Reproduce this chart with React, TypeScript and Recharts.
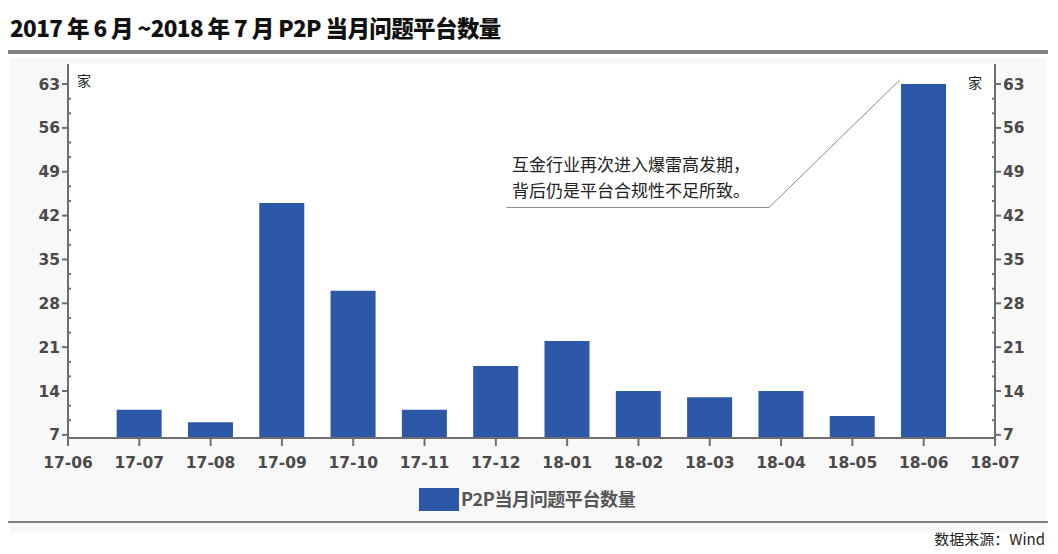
import React from "react";
import {
  BarChart,
  Bar,
  XAxis,
  YAxis,
  ReferenceLine,
} from "recharts";

const months = [
  "17-06", "17-07", "17-08", "17-09", "17-10", "17-11", "17-12",
  "18-01", "18-02", "18-03", "18-04", "18-05", "18-06", "18-07",
];
// problem platforms per month (17-06 and 18-07 have no bar)
const problemCount = [null, 11, 9, 44, 30, 11, 18, 22, 14, 13, 14, 10, 63, null];
const yTicks = [7, 14, 21, 28, 35, 42, 49, 56, 63];

const data = months.map((m, i) => ({ idx: i, month: m, value: problemCount[i] }));
const xTicks = months.map((_, i) => i);
const xMinor = months.slice(1).map((_, i) => i + 0.5);
const yMinor = yTicks.slice(0, -1).flatMap((t) => [t + 7 / 3, t + 14 / 3]);

const BLUE = "#2d58a7";
const AXIS = "#6e6e6e";
const tickStyle = {
  fill: "#4a4a4a",
  fontSize: 15.5,
  fontWeight: 700,
  fontFamily: "DejaVu Sans",
};
const cjk = '"Noto Sans CJK SC", "Noto Sans", sans-serif';

const App = () => {
  return (
    <div style={{ position: "relative", width: 1058, height: 554, margin: -8, background: "#fff", fontFamily: cjk }}>
      <div
        style={{
          position: "absolute",
          left: 10,
          top: 11,
          fontSize: 22.5,
          fontWeight: 900,
          color: "#111",
          letterSpacing: -0.6,
          whiteSpace: "nowrap",
        }}
      >
        2017 年 6 月 ~2018 年 7 月 P2P 当月问题平台数量
      </div>
      <div style={{ position: "absolute", left: 8, top: 50, width: 1040, height: 4, background: "#808080" }} />
      <div style={{ position: "absolute", left: 10, top: 58, width: 1036, height: 474, background: "#f8f8f8" }} />
      <div style={{ position: "absolute", left: 68, top: 64, width: 927, height: 374, background: "#fff" }} />

      <div style={{ position: "absolute", left: 0, top: 0 }}>
        <BarChart
          width={1058}
          height={554}
          data={data}
          margin={{ top: 64, right: 13, left: 18, bottom: 86 }}
        >
          <XAxis
            xAxisId="minor"
            type="number"
            dataKey="idx"
            domain={[0, 13]}
            ticks={xMinor}
            height={0}
            axisLine={false}
            tickSize={4}
            tickLine={{ stroke: AXIS, strokeWidth: 2 }}
            tickFormatter={() => ""}
          />
          <XAxis
            type="number"
            dataKey="idx"
            domain={[0, 13]}
            ticks={xTicks}
            interval={0}
            height={30}
            tickFormatter={(v) => months[v]}
            axisLine={{ stroke: AXIS, strokeWidth: 2 }}
            tickLine={{ stroke: AXIS, strokeWidth: 2 }}
            tickSize={8}
            tick={{ ...tickStyle, dy: 9 }}
          />
          <YAxis
            yAxisId="left"
            domain={[6.5, 66.2]}
            ticks={yTicks}
            allowDataOverflow
            width={50}
            axisLine={{ stroke: AXIS, strokeWidth: 2 }}
            tickLine={{ stroke: AXIS, strokeWidth: 2 }}
            tickSize={6}
            tick={tickStyle}
          />
          <YAxis
            yAxisId="right"
            orientation="right"
            domain={[6.5, 66.2]}
            ticks={yTicks}
            allowDataOverflow
            width={50}
            axisLine={{ stroke: AXIS, strokeWidth: 2 }}
            tickLine={{ stroke: AXIS, strokeWidth: 2 }}
            tickSize={6}
            tick={tickStyle}
          />
          <YAxis
            yAxisId="leftMinor"
            mirror
            domain={[6.5, 66.2]}
            ticks={yMinor}
            allowDataOverflow
            axisLine={false}
            tickSize={3}
            tickLine={{ stroke: AXIS, strokeWidth: 2 }}
            tickFormatter={() => ""}
          />
          <YAxis
            yAxisId="rightMinor"
            orientation="right"
            mirror
            domain={[6.5, 66.2]}
            ticks={yMinor}
            allowDataOverflow
            axisLine={false}
            tickSize={3}
            tickLine={{ stroke: AXIS, strokeWidth: 2 }}
            tickFormatter={() => ""}
          />
          <Bar
            yAxisId="left"
            dataKey="value"
            fill={BLUE}
            barSize={45}
            isAnimationActive={false}
          />
          <ReferenceLine
            yAxisId="left"
            segment={[{ x: 6.15, y: 43.3 }, { x: 9.83, y: 43.3 }]}
            stroke="#8a8a8a"
            strokeWidth={1}
          />
          <ReferenceLine
            yAxisId="left"
            segment={[{ x: 9.83, y: 43.3 }, { x: 11.66, y: 63.6 }]}
            stroke="#8a8a8a"
            strokeWidth={1}
          />
        </BarChart>
      </div>

      <div style={{ position: "absolute", left: 77, top: 70, fontSize: 14, color: "#222" }}>家</div>
      <div style={{ position: "absolute", left: 968, top: 72, fontSize: 14, color: "#222" }}>家</div>

      <div style={{ position: "absolute", left: 512, top: 151, fontSize: 17, lineHeight: "26px", color: "#222", whiteSpace: "nowrap" }}>
        互金行业再次进入爆雷高发期，
        <br />
        背后仍是平台合规性不足所致。
      </div>

      <div style={{ position: "absolute", left: 419, top: 488, width: 40, height: 23, background: BLUE }} />
      <div
        style={{
          position: "absolute",
          left: 461,
          top: 485,
          fontSize: 18,
          fontWeight: 700,
          color: "#555",
          letterSpacing: -0.4,
          whiteSpace: "nowrap",
        }}
      >
        P2P当月问题平台数量
      </div>
      <div style={{ position: "absolute", left: 8, top: 521, width: 1040, height: 2, background: "#808080" }} />
      <div style={{ position: "absolute", right: 13, top: 528, fontSize: 15, color: "#222", whiteSpace: "nowrap" }}>
        数据来源：Wind
      </div>
    </div>
  );
};

export default App;
